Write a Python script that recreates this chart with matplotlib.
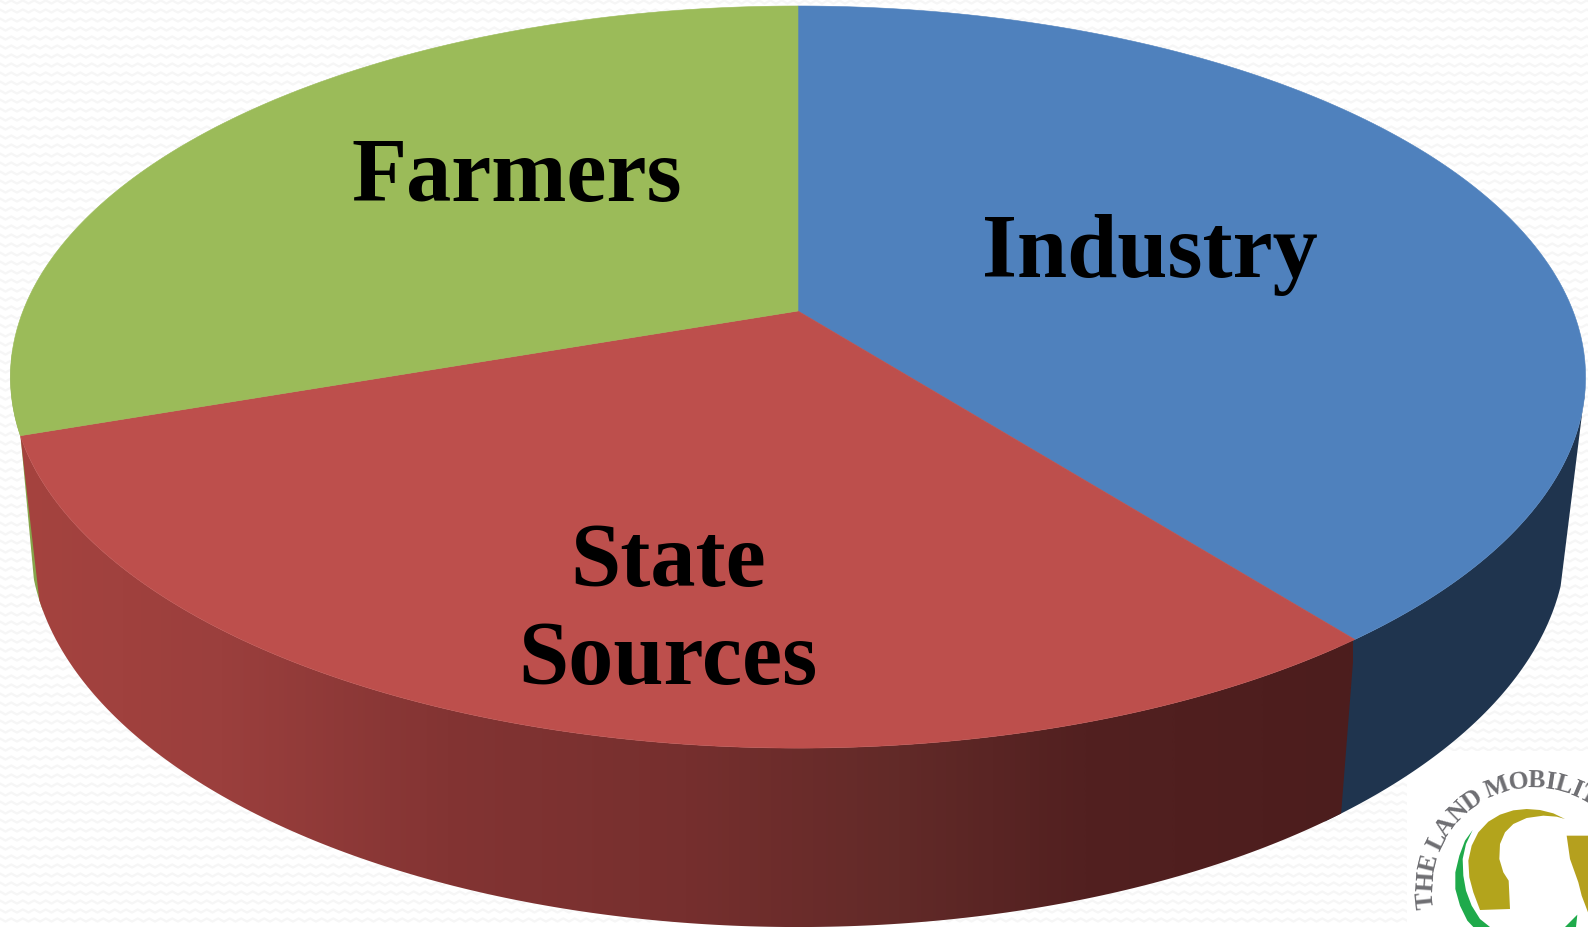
"""3D pie of land sources, with the logo in the lower right corner."""
import numpy as np
import matplotlib
matplotlib.use("Agg")
import matplotlib.pyplot as plt
from matplotlib.collections import LineCollection
from matplotlib.colors import LinearSegmentedColormap
from matplotlib.patches import Polygon

# data
slices = ["Industry", "State\nSources", "Farmers"]
shares = [39.4, 30.3, 30.3]
top_colors = ["#4F81BD", "#BD4F4C", "#9BBB59"]
wall_colors = ["#1F344E", None, "#86A44A"]
logo_text = "THE LAND MOBILIT"
logo_widths = [.667, .778, .667, .25, .667, .722, .722, .722, .25, .944, .778, .667, .389, .667, .389, .667]

W, H = 1588, 928
SERIF = "Liberation Serif"

# perspective of the disc: pixels for the top face and for the base
K = 0.178
TOP = dict(cx=798, cy=312, A=775, B=359.3)
BASE = dict(cx=798, cy=471, A=756, B=375.7)


def project(deg, d):
    t = np.radians(deg)
    u, v = np.cos(t), np.sin(t)
    s = 1 / (1 + K * v)
    return d["cx"] + d["A"] * u * s, d["cy"] - d["B"] * v * s


def arc(a0, a1, d):
    x, y = project(np.linspace(a0, a1, 200), d)
    return np.column_stack([x, y])


fig = plt.figure(figsize=(W / 100, H / 100), dpi=100)
ax = fig.add_axes([0, 0, 1, 1])
ax.axis("off")

# faint zigzag wallpaper
zig = []
for y0 in np.arange(3, H, 9):
    xs = np.arange(-6, W + 6, 5.75)
    ys = y0 + 1.6 * (-1.0) ** np.arange(len(xs))
    zig.append(np.column_stack([xs, ys]))
ax.add_collection(LineCollection(zig, colors="#F6F6F6", linewidths=1.6, zorder=0))

# white block behind the logo
ax.add_patch(plt.Rectangle((1407, 752), 181, 176, color="white", lw=0, zorder=0.5))

# clockwise from twelve o'clock
edges = 90 - np.cumsum([0] + shares) * 3.6

# walls, back to front
right_edge, left_edge = edges[1], edges[2]
green_wall = np.vstack([arc(left_edge + 1.5, left_edge - 13, TOP),
                        arc(left_edge - 3, left_edge + 1.5, BASE)])
ax.add_patch(Polygon(green_wall, color=wall_colors[2], lw=0, zorder=1))
blue_wall = np.vstack([arc(right_edge - 1.5, -12, TOP), arc(-17, right_edge - 1.5, BASE)])
ax.add_patch(Polygon(blue_wall, color=wall_colors[0], lw=0, zorder=1))

red_wall = np.vstack([arc(right_edge, left_edge, TOP), arc(left_edge, right_edge, BASE)])
clip = Polygon(red_wall, transform=ax.transData, lw=0, fc="none")
ax.add_patch(clip)
stops = [(0, "#A5433F"), (0.15, "#9B3F3D"), (0.32, "#833433"), (0.5, "#762F2E"),
         (0.66, "#622A28"), (0.8, "#522020"), (1, "#4C1D1D")]
cmap = LinearSegmentedColormap.from_list("wall", stops)
im = ax.imshow(np.linspace(0, 1, 512)[None, :], extent=(20, 1353, 928, 430), cmap=cmap,
               aspect="auto", zorder=2, interpolation="bilinear")
im.set_clip_path(clip)

# top face
for i in range(3):
    pts = np.vstack([[TOP["cx"], TOP["cy"]], arc(edges[i], edges[i + 1], TOP)])
    ax.add_patch(Polygon(pts, color=top_colors[i], lw=0.4, zorder=3))

# labels
label_xy = [(1150, 255), (668, 613), (517, 179)]
for name, (x, y) in zip(slices, label_xy):
    ax.text(x, y, name, fontsize=65, fontweight="bold", family=SERIF, color="black",
            ha="center", va="center", linespacing=1.24, zorder=4)

# logo
z = lambda p: [(1380 + a / 3, 750 + b / 3) for a, b in p]
gold_left = z([(555, 210), (520, 193), (480, 183), (440, 180), (400, 184), (360, 197), (325, 218), (295, 250),
               (275, 290), (265, 335), (268, 385), (280, 430), (300, 483), (390, 480), (386, 395), (370, 370),
               (358, 330), (360, 285), (375, 250), (400, 225), (440, 207), (490, 200), (530, 203)])
gold_right = z([(560, 260), (624, 260), (624, 490), (605, 440), (595, 400), (570, 330)])
green_left = z([(278, 243), (255, 275), (238, 320), (226, 370), (226, 420), (240, 470), (262, 515), (280, 534),
                (330, 534), (300, 510), (275, 470), (258, 425), (250, 380), (248, 330), (258, 285)])
green_right = z([(592, 497), (588, 534), (555, 534)])
ax.add_patch(Polygon(gold_left, color="#B3A41C", lw=0, zorder=5))
ax.add_patch(Polygon(gold_right, color="#B5A01E", lw=0, zorder=5))
ax.add_patch(Polygon(green_left, color="#1FAA4B", lw=0, zorder=5))
ax.add_patch(Polygon(green_right, color="#1FAA4B", lw=0, zorder=5))

cx_logo, cy_logo, r_logo = 1534, 889, 108
deg_per_em = 13.6
pos = -96 - logo_widths[0] / 2 * deg_per_em
for ch, w in zip(logo_text, logo_widths):
    mid = pos + w / 2 * deg_per_em
    t = np.radians(mid)
    ax.text(cx_logo + r_logo * np.sin(t), cy_logo - r_logo * np.cos(t), ch, fontsize=18.5,
            family=SERIF, fontweight="bold", color="#6E6E72", ha="center", va="center",
            rotation=-mid, rotation_mode="anchor", zorder=5, clip_on=True)
    pos += w * deg_per_em

ax.set_xlim(0, W)
ax.set_ylim(H, 0)
fig.savefig("out.png", dpi=100, facecolor="white")
